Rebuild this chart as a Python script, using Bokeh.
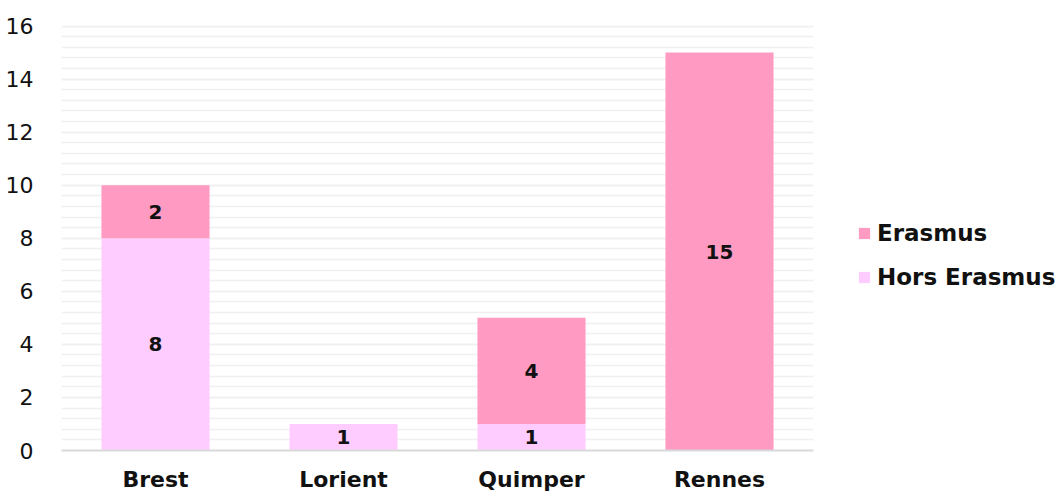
from bokeh.plotting import figure
from bokeh.models import ColumnDataSource, Legend, LegendItem, SingleIntervalTicker, LabelSet
from bokeh.core.properties import value
from bokeh.embed import file_html
from bokeh.resources import INLINE

cities = ["Brest", "Lorient", "Quimper", "Rennes"]
hors_erasmus = [8, 1, 1, 0]
erasmus = [2, 0, 4, 15]
series = ["Hors Erasmus", "Erasmus"]
colors = ["#FFCCFF", "#FF9BC3"]
FONT = "DejaVu Sans"
TXT = "#111111"

src = ColumnDataSource(dict(city=cities, **{"Hors Erasmus": hors_erasmus, "Erasmus": erasmus}))

p = figure(x_range=cities, y_range=(0, 16.02), output_backend="svg", toolbar_location=None,
           frame_width=752, frame_height=425,
           min_border_left=61, min_border_top=25, min_border_bottom=37, min_border_right=245)
p.outline_line_color = None

r = p.vbar_stack(series, x="city", width=0.575, color=colors, line_color=None, source=src)

# labels
lx, ly, lt = [], [], []
for c, h, e in zip(cities, hors_erasmus, erasmus):
    if h:
        lx.append(c); ly.append(h / 2); lt.append(str(h))
    if e:
        lx.append(c); ly.append(h + e / 2); lt.append(str(e))
lsrc = ColumnDataSource(dict(x=lx, y=ly, t=lt))
p.add_layout(LabelSet(x="x", y="y", text="t", source=lsrc, text_align="center", text_baseline="middle",
                      text_font=value(FONT), text_font_style="bold", text_font_size="20px",
                      text_color=TXT))

p.yaxis.ticker = SingleIntervalTicker(interval=2, num_minor_ticks=5)
p.ygrid.ticker = SingleIntervalTicker(interval=2, num_minor_ticks=5)
p.ygrid.grid_line_color = "#f0f0f0"
p.ygrid.minor_grid_line_color = "#f0f0f0"
p.ygrid.grid_line_width = 1.5
p.ygrid.minor_grid_line_width = 1.5
p.xgrid.grid_line_color = None

p.yaxis.axis_line_color = None
p.yaxis.major_tick_line_color = None
p.yaxis.minor_tick_line_color = None
p.yaxis.major_label_text_font = FONT
p.yaxis.major_label_text_font_size = "22px"
p.yaxis.major_label_text_color = TXT
p.yaxis.major_label_standoff = 22

p.xaxis.axis_line_color = "#d9d9d9"
p.xaxis.axis_line_width = 2
p.xaxis.major_tick_line_color = None
p.xaxis.minor_tick_line_color = None
p.xaxis.major_label_text_font = FONT
p.xaxis.major_label_text_font_style = "bold"
p.xaxis.major_label_text_font_size = "22px"
p.xaxis.major_label_text_color = TXT
p.xaxis.major_label_standoff = 10

legend = Legend(items=[LegendItem(label="Erasmus", renderers=[r[1]]),
                       LegendItem(label="Hors Erasmus", renderers=[r[0]])],
                location=(44, 160), border_line_color=None, background_fill_alpha=0,
                label_text_font=FONT, label_text_font_style="bold", label_text_font_size="23px",
                label_text_color=TXT, glyph_width=14, glyph_height=14, spacing=18,
                label_standoff=6, padding=0, margin=0)
p.add_layout(legend, "right")

open("out.html", "w").write(file_html(p, INLINE))
